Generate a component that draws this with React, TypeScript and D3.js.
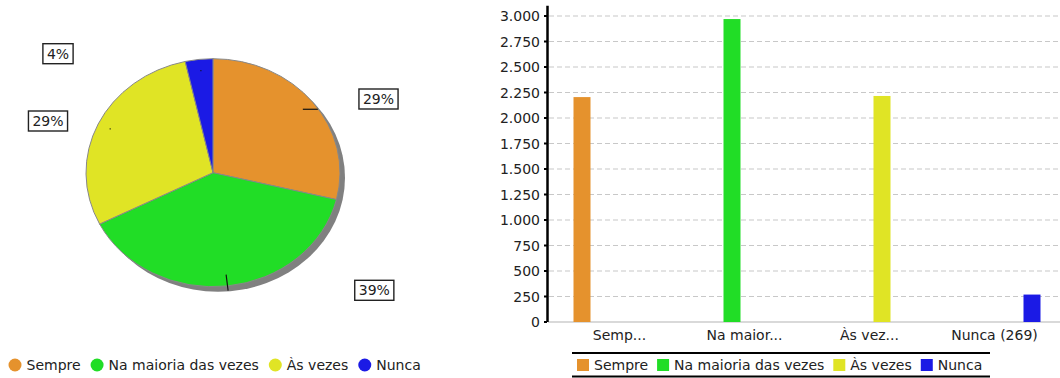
import React from 'react';
import * as d3 from 'd3';

// ---- data ----
const categories = ['Sempre', 'Na maioria das vezes', 'Às vezes', 'Nunca'];
const values = [2205, 2970, 2216, 269];
const colors = ['#e5922d', '#21dd26', '#e0e425', '#1b1ae5'];
const xTickLabels = ['Semp...', 'Na maior...', 'Às vez...', 'Nunca (269)'];
const yTicks = [0, 250, 500, 750, 1000, 1250, 1500, 1750, 2000, 2250, 2500, 2750, 3000];

// ---- layout (styles / positions) ----
const W = 1060;
const H = 378;
const FONT = 'DejaVu Sans, Verdana, sans-serif';
const TEXT = '#222';
const pieC = { x: 213, y: 172.7, rx: 127, ry: 114 };
const shadowOff = 5;
const labelOffsets: [number, number][] = [[165.5, -73.7], [161.3, 117.6], [-165, -51.7], [-155, -119]];
const leaderDeltas: [number, number][] = [[15, 0], [2, 16], [1, 0], [1, 0]];

const measure = (() => {
  let ctx: CanvasRenderingContext2D | null = null;
  return (t: string, size = 14) => {
    if (!ctx) ctx = document.createElement('canvas').getContext('2d');
    if (!ctx) return t.length * size * 0.6;
    ctx.font = `${size}px "DejaVu Sans"`;
    return ctx.measureText(t).width;
  };
})();

const fmt = d3.formatLocale({ decimal: ',', thousands: '.', grouping: [3], currency: ['', ''] }).format(',d');

function Pie() {
  const total = d3.sum(values);
  const arcs = d3.pie<number>().sort(null)(values);
  const arc = d3.arc<d3.PieArcDatum<number>>().innerRadius(0).outerRadius(pieC.rx);
  const sy = pieC.ry / pieC.rx;
  const pt = (a: number, f: number) => [pieC.x + f * pieC.rx * Math.sin(a), pieC.y - f * pieC.ry * Math.cos(a)];

  // legend
  let lx = 8.5;
  const legend = categories.map((c, i) => {
    const cx = lx + 6.5;
    const tx = lx + 18;
    const w = measure(c);
    lx = tx + w + 10;
    return (
      <g key={c}>
        <circle cx={cx} cy={365} r={6.5} fill={colors[i]} />
        <text x={tx} y={370} fontSize={14} fill={TEXT} fontFamily={FONT}>{c}</text>
      </g>
    );
  });

  return (
    <g>
      <ellipse cx={pieC.x + shadowOff} cy={pieC.y + shadowOff} rx={pieC.rx} ry={pieC.ry} fill="#808080" />
      <g transform={`translate(${pieC.x},${pieC.y}) scale(1,${sy})`}>
        {arcs.map((a, i) => (
          <path key={i} d={arc(a) || ''} fill={colors[i]} stroke="#888" strokeWidth={1} vectorEffect="non-scaling-stroke" />
        ))}
      </g>
      {arcs.map((a, i) => {
        const mid = (a.startAngle + a.endAngle) / 2;
        const [x0, y0] = pt(mid, 0.9);
        const [dx, dy] = leaderDeltas[i];
        return <line key={'l' + i} x1={x0} y1={y0} x2={x0 + dx} y2={y0 + dy} stroke="#111" strokeWidth={1.2} />;
      })}
      {arcs.map((a, i) => {
        const label = `${Math.round((a.data / total) * 100)}%`;
        const w = measure(label) + 8;
        const cx = pieC.x + labelOffsets[i][0];
        const cy = pieC.y + labelOffsets[i][1];
        return (
          <g key={'b' + i}>
            <rect x={cx - w / 2} y={cy - 10} width={w} height={20} fill="#fff" stroke="#222" strokeWidth={1.4} />
            <text x={cx} y={cy + 5} textAnchor="middle" fontSize={14} fill={TEXT} fontFamily={FONT}>{label}</text>
          </g>
        );
      })}
      {legend}
    </g>
  );
}

function Bars() {
  const axisX = 547.5;
  const y = d3.scaleLinear().domain([0, 3100]).range([322, 5.8]);
  const xb = d3.scaleBand<string>().domain(categories).range([548, 1148]);
  const xl = d3.scaleBand<string>().domain(categories).range([557, 1057]);
  const barOffset = 25.5;
  const barW = 17;

  let lx = 577;
  const legend = categories.map((c, i) => {
    const sx = lx;
    const tx = lx + 17;
    lx = tx + measure(c) + 9;
    return (
      <g key={c}>
        <rect x={sx} y={359} width={12} height={12} fill={colors[i]} />
        <text x={tx} y={370} fontSize={14} fill={TEXT} fontFamily={FONT}>{c}</text>
      </g>
    );
  });

  return (
    <g>
      {yTicks.filter((t) => t > 0).map((t) => (
        <line key={'g' + t} x1={549} x2={W} y1={y(t)} y2={y(t)} stroke="#c8c8c8" strokeWidth={1.2} strokeDasharray="5,3" />
      ))}
      <line x1={548} x2={W} y1={y(0)} y2={y(0)} stroke="#cccccc" strokeWidth={1.5} />
      {values.map((v, i) => (
        <rect key={'r' + i} x={(xb(categories[i]) || 0) + barOffset} y={y(v)} width={barW} height={y(0) - y(v)} fill={colors[i]} />
      ))}
      <line x1={axisX} x2={axisX} y1={y(3100)} y2={y(0)} stroke="#000" strokeWidth={2.5} />
      {yTicks.map((t) => (
        <g key={'t' + t}>
          <line x1={544} x2={547} y1={y(t)} y2={y(t)} stroke="#000" strokeWidth={2} />
          <text x={540} y={y(t) + 5} textAnchor="end" fontSize={14} fill={TEXT} fontFamily={FONT}>{fmt(t)}</text>
        </g>
      ))}
      {categories.map((c, i) => (
        <text key={'x' + c} x={(xl(c) || 0) + xl.bandwidth() / 2} y={340} textAnchor="middle" fontSize={14} fill={TEXT} fontFamily={FONT}>
          {xTickLabels[i]}
        </text>
      ))}
      <line x1={572} x2={990} y1={353} y2={353} stroke="#000" strokeWidth={2} />
      <line x1={572} x2={990} y1={376.5} y2={376.5} stroke="#000" strokeWidth={2} />
      {legend}
    </g>
  );
}

export default function App() {
  return (
    <svg width={W} height={H} style={{ position: 'absolute', left: 0, top: 0, background: '#fff' }}>
      <rect width={W} height={H} fill="#fff" />
      <Pie />
      <Bars />
    </svg>
  );
}
